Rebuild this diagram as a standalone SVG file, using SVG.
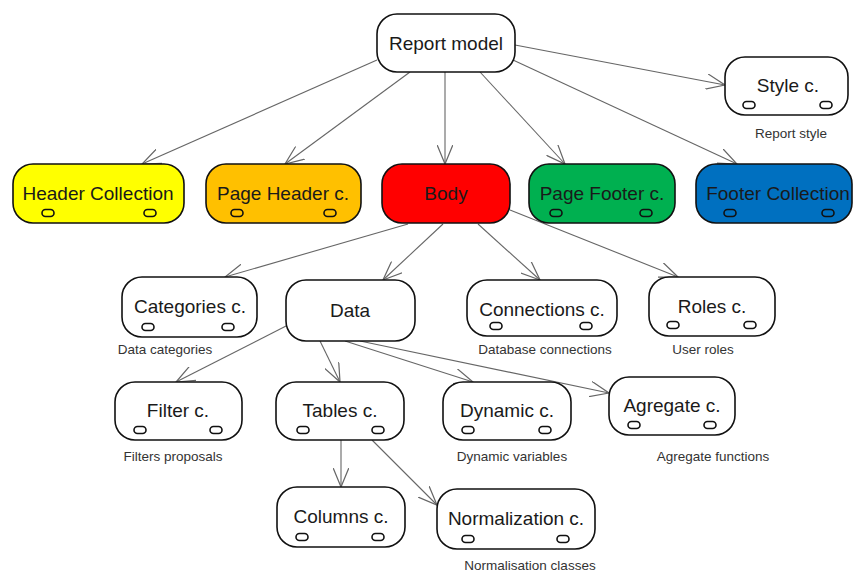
<svg xmlns="http://www.w3.org/2000/svg" width="853" height="572" viewBox="0 0 853 572">
<defs>
<style>
.n{stroke:#111;stroke-width:1.6}
.w{fill:#fff}
.t{font-family:"Liberation Sans",Arial,sans-serif;font-size:19px;fill:#1a1a1a;text-anchor:middle}
.l{font-family:"Liberation Sans",Arial,sans-serif;font-size:13.5px;fill:#333;text-anchor:middle}
.p{fill:none;stroke:#111;stroke-width:1.6}
.c{stroke:#666;stroke-width:1.1;fill:none;marker-end:url(#a)}
</style>
<marker id="a" markerUnits="userSpaceOnUse" markerWidth="20" markerHeight="16" refX="17" refY="7" orient="auto" viewBox="0 0 18 14">
<path d="M0,0 L17,7 L0,14" fill="none" stroke="#666" stroke-width="1.1"/>
</marker>
<rect id="pill" x="-6" y="-3.5" width="12" height="7" rx="3.5"/>
</defs>
<rect width="853" height="572" fill="#fff"/>
<g id="connectors">
<line class="c" x1="377" y1="60" x2="142" y2="164"/>
<line class="c" x1="410" y1="72" x2="285" y2="164"/>
<line class="c" x1="445" y1="72" x2="445" y2="164"/>
<line class="c" x1="480" y1="72" x2="565" y2="164"/>
<line class="c" x1="513" y1="60" x2="737" y2="164"/>
<line class="c" x1="515" y1="45" x2="725" y2="85"/>
<line class="c" x1="408" y1="224" x2="225" y2="277"/>
<line class="c" x1="443" y1="224" x2="383" y2="280"/>
<line class="c" x1="478" y1="224" x2="540" y2="280"/>
<line class="c" x1="510" y1="210" x2="678" y2="277"/>
<line class="c" x1="288" y1="325" x2="176" y2="382"/>
<line class="c" x1="320" y1="341" x2="340" y2="382"/>
<line class="c" x1="345" y1="341" x2="473" y2="382"/>
<line class="c" x1="360" y1="341" x2="609" y2="393"/>
<line class="c" x1="341" y1="440" x2="341" y2="487"/>
<line class="c" x1="372" y1="440" x2="437" y2="505"/>
</g>
<g id="report-model">
<rect class="n w" x="377" y="14" width="138" height="58" rx="20"/>
<text class="t" x="446" y="50">Report model</text>
</g>
<g id="style-c">
<rect class="n w" x="725" y="57" width="123" height="58" rx="20"/>
<text class="t" x="788" y="92">Style c.</text>
<use href="#pill" class="p" x="749" y="105"/>
<use href="#pill" class="p" x="826" y="105"/>
<text class="l" x="791" y="138">Report style</text>
</g>
<g id="header-collection">
<rect class="n" fill="#ffff00" x="13" y="164" width="171" height="59" rx="20"/>
<text class="t" x="98" y="200">Header Collection</text>
<use href="#pill" class="p" x="48" y="213"/>
<use href="#pill" class="p" x="150" y="213"/>
</g>
<g id="page-header">
<rect class="n" fill="#ffc000" x="206" y="164" width="155" height="59" rx="20"/>
<text class="t" x="283" y="200">Page Header c.</text>
<use href="#pill" class="p" x="237" y="213"/>
<use href="#pill" class="p" x="330" y="213"/>
</g>
<g id="body">
<rect class="n" fill="#ff0000" x="382" y="164" width="128" height="59" rx="20"/>
<text class="t" x="446" y="200">Body</text>
</g>
<g id="page-footer">
<rect class="n" fill="#00b050" x="529" y="164" width="146" height="59" rx="20"/>
<text class="t" x="602" y="200">Page Footer c.</text>
<use href="#pill" class="p" x="556" y="213"/>
<use href="#pill" class="p" x="646" y="213"/>
</g>
<g id="footer-collection">
<rect class="n" fill="#0070c0" x="696" y="164" width="156" height="59" rx="20"/>
<text class="t" x="778" y="200">Footer Collection</text>
<use href="#pill" class="p" x="730" y="213"/>
<use href="#pill" class="p" x="828" y="213"/>
</g>
<g id="categories">
<rect class="n w" x="122" y="277" width="135" height="60" rx="20"/>
<text class="t" x="190" y="313">Categories c.</text>
<use href="#pill" class="p" x="148" y="327"/>
<use href="#pill" class="p" x="228" y="327"/>
<text class="l" x="165" y="354">Data categories</text>
</g>
<g id="data">
<rect class="n w" x="286" y="280" width="129" height="61" rx="20"/>
<text class="t" x="350" y="317">Data</text>
</g>
<g id="connections">
<rect class="n w" x="467" y="280" width="150" height="56" rx="20"/>
<text class="t" x="542" y="316">Connections c.</text>
<use href="#pill" class="p" x="496" y="326"/>
<use href="#pill" class="p" x="586" y="326"/>
<text class="l" x="545" y="354">Database connections</text>
</g>
<g id="roles">
<rect class="n w" x="649" y="277" width="126" height="59" rx="20"/>
<text class="t" x="712" y="313">Roles c.</text>
<use href="#pill" class="p" x="673" y="325"/>
<use href="#pill" class="p" x="750" y="325"/>
<text class="l" x="703" y="354">User roles</text>
</g>
<g id="filter">
<rect class="n w" x="115" y="382" width="127" height="58" rx="20"/>
<text class="t" x="178" y="417">Filter c.</text>
<use href="#pill" class="p" x="140" y="430"/>
<use href="#pill" class="p" x="216" y="430"/>
<text class="l" x="173" y="461">Filters proposals</text>
</g>
<g id="tables">
<rect class="n w" x="276" y="382" width="128" height="58" rx="20"/>
<text class="t" x="340" y="417">Tables c.</text>
<use href="#pill" class="p" x="303" y="430"/>
<use href="#pill" class="p" x="378" y="430"/>
</g>
<g id="dynamic">
<rect class="n w" x="443" y="382" width="128" height="58" rx="20"/>
<text class="t" x="507" y="417">Dynamic c.</text>
<use href="#pill" class="p" x="468" y="430"/>
<use href="#pill" class="p" x="545" y="430"/>
<text class="l" x="512" y="461">Dynamic variables</text>
</g>
<g id="agregate">
<rect class="n w" x="609" y="377" width="126" height="58" rx="20"/>
<text class="t" x="672" y="412">Agregate c.</text>
<use href="#pill" class="p" x="634" y="425"/>
<use href="#pill" class="p" x="710" y="425"/>
<text class="l" x="713" y="461">Agregate functions</text>
</g>
<g id="columns">
<rect class="n w" x="277" y="487" width="128" height="60" rx="20"/>
<text class="t" x="341" y="523">Columns c.</text>
<use href="#pill" class="p" x="302" y="537"/>
<use href="#pill" class="p" x="378" y="537"/>
</g>
<g id="normalization">
<rect class="n w" x="437" y="489" width="158" height="60" rx="20"/>
<text class="t" x="516" y="525">Normalization c.</text>
<use href="#pill" class="p" x="468" y="539"/>
<use href="#pill" class="p" x="563" y="539"/>
<text class="l" x="530" y="570">Normalisation classes</text>
</g>
</svg>
